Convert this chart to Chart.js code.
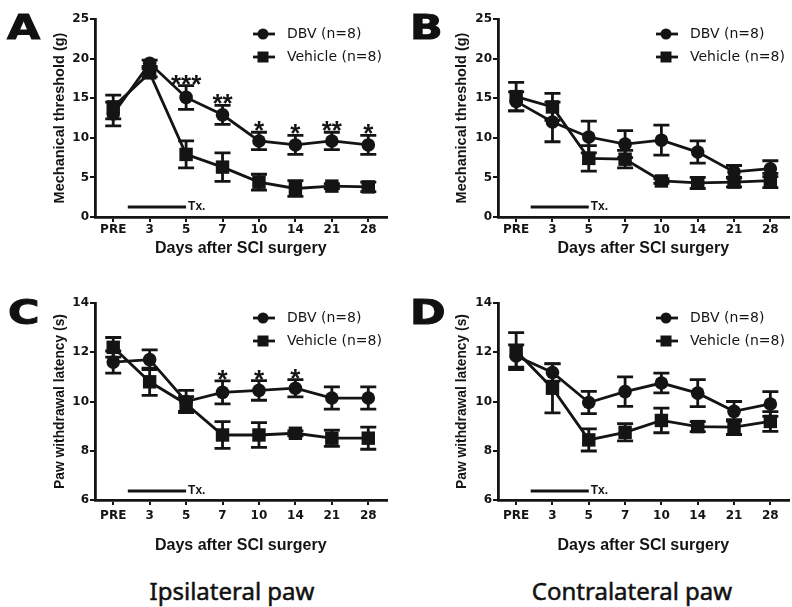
<!DOCTYPE html>
<html>
<head>
<meta charset="utf-8">
<script src="https://cdn.jsdelivr.net/npm/chart.js@4.4.0/dist/chart.umd.min.js"></script>
<style>
  body { margin: 0; width: 792px; height: 607px; overflow: hidden; background: #fff; position: relative; }
  canvas { position: absolute; }
  .letter { position: absolute; font: bold 33px 'DejaVu Sans'; line-height: 33px; color: #111;
            transform: scaleX(1.3); transform-origin: left top; -webkit-text-stroke: 1px #111; }
  .caption { position: absolute; width: 300px; text-align: center; font: 24px 'Noto Sans'; color: #111;
             line-height: 30px; -webkit-text-stroke: 0.5px #111; }
</style>
</head>
<body>
<canvas id="chartA" width="396" height="265" style="left:0;top:0"></canvas>
<canvas id="chartB" width="402" height="265" style="left:396px;top:0"></canvas>
<canvas id="chartC" width="396" height="288" style="left:0;top:270px"></canvas>
<canvas id="chartD" width="402" height="288" style="left:396px;top:270px"></canvas>
<div class="letter" style="left:7px;top:11px">A</div>
<div class="letter" style="left:410px;top:11px">B</div>
<div class="letter" style="left:8px;top:296px">C</div>
<div class="letter" style="left:410px;top:296px">D</div>
<div class="caption" style="left:82px;top:576px">Ipsilateral paw</div>
<div class="caption" style="left:482px;top:576px">Contralateral paw</div>
<script>
const days = ['PRE', '3', '5', '7', '10', '14', '21', '28'];
const seriesNames = ['DBV (n=8)', 'Vehicle (n=8)'];

// A - mechanical threshold, ipsilateral
const mechIpsiDbv = [13.0, 19.4, 15.1, 12.9, 9.6, 9.1, 9.6, 9.1];
const mechIpsiDbvErr = [1.5, 0.4, 1.5, 1.2, 1.1, 1.2, 1.1, 1.2];
const mechIpsiVeh = [13.9, 18.2, 7.9, 6.3, 4.4, 3.6, 3.9, 3.8];
const mechIpsiVehErr = [1.5, 0.5, 1.7, 1.8, 1.0, 1.0, 0.3, 0.6];
const mechIpsiStars = ['', '', '***', '**', '*', '*', '**', '*'];

// B - mechanical threshold, contralateral
const mechContraDbv = [14.6, 12.0, 10.1, 9.2, 9.7, 8.2, 5.7, 6.1];
const mechContraDbvErr = [1.2, 2.5, 2.0, 1.7, 1.9, 1.4, 0.8, 1.0];
const mechContraVeh = [15.2, 13.9, 7.4, 7.3, 4.55, 4.3, 4.4, 4.6];
const mechContraVehErr = [1.8, 1.7, 1.6, 1.1, 0.3, 0.7, 0.6, 0.9];
const mechContraStars = ['', '', '', '', '', '', '', ''];

// C - paw withdrawal latency, ipsilateral
const latIpsiDbv = [11.6, 11.7, 10.0, 10.37, 10.45, 10.54, 10.14, 10.14];
const latIpsiDbvErr = [0.45, 0.4, 0.45, 0.47, 0.4, 0.35, 0.45, 0.45];
const latIpsiVeh = [12.2, 10.8, 9.9, 8.64, 8.64, 8.71, 8.51, 8.51];
const latIpsiVehErr = [0.4, 0.55, 0.3, 0.54, 0.5, 0.1, 0.33, 0.45];
const latIpsiStars = ['', '', '', '*', '*', '*', '', ''];

// D - paw withdrawal latency, contralateral
const latContraDbv = [11.85, 11.18, 9.96, 10.4, 10.75, 10.34, 9.6, 9.9];
const latContraDbvErr = [0.45, 0.35, 0.45, 0.6, 0.4, 0.55, 0.4, 0.5];
const latContraVeh = [12.05, 10.54, 8.44, 8.75, 9.23, 8.98, 8.96, 9.19];
const latContraVehErr = [0.75, 1.0, 0.45, 0.35, 0.5, 0.2, 0.3, 0.4];
const latContraStars = ['', '', '', '', '', '', '', ''];

// treatment period, in x index units (between PRE/3 up to day 5)
const txSpan = [0.4, 2];

const INK = '#141414';

// error bars, asterisks, Tx. bar and the small legend
function makeExtras(cfg) {
    return {
        id: 'extras',
        beforeDatasetsDraw(chart) {
            const ctx = chart.ctx, xs = chart.scales.x, ys = chart.scales.y;
            ctx.save();
            ctx.strokeStyle = INK;
            ctx.lineWidth = 2.8;
            [cfg.dbvErr, cfg.vehErr].forEach((errs, d) => {
                const vals = chart.data.datasets[d].data;
                vals.forEach((v, i) => {
                    const px = xs.getPixelForValue(i);
                    const top = ys.getPixelForValue(v + errs[i]);
                    const bot = ys.getPixelForValue(v - errs[i]);
                    ctx.beginPath();
                    ctx.moveTo(px, top); ctx.lineTo(px, bot);
                    ctx.moveTo(px - 8, top); ctx.lineTo(px + 8, top);
                    ctx.moveTo(px - 8, bot); ctx.lineTo(px + 8, bot);
                    ctx.stroke();
                });
            });
            ctx.restore();
        },
        afterDraw(chart) {
            const ctx = chart.ctx, xs = chart.scales.x, ys = chart.scales.y;
            const area = chart.chartArea;
            ctx.save();
            ctx.fillStyle = INK;
            ctx.strokeStyle = INK;

            // significance marks
            ctx.font = 'bold 26px "Liberation Sans"';
            ctx.textAlign = 'center';
            ctx.textBaseline = 'alphabetic';
            cfg.stars.forEach((s, i) => {
                if (!s) return;
                const top = ys.getPixelForValue(cfg.dbv[i] + cfg.dbvErr[i]);
                ctx.fillText(s, xs.getPixelForValue(i), top + 7);
            });

            // Tx. bar
            const ty = area.bottom - cfg.txGap;
            const x1 = xs.getPixelForValue(txSpan[0]);
            const x2 = xs.getPixelForValue(txSpan[1]);
            ctx.lineWidth = 3;
            ctx.beginPath();
            ctx.moveTo(x1, ty); ctx.lineTo(x2, ty);
            ctx.stroke();
            ctx.font = 'bold 12px "Liberation Sans"';
            ctx.textAlign = 'left';
            ctx.textBaseline = 'middle';
            ctx.fillText('Tx.', x2 + 2, ty);

            // legend
            ctx.font = '14px "DejaVu Sans"';
            ctx.lineWidth = 2.8;
            seriesNames.forEach((name, k) => {
                const cy = area.top + 15 + k * 23;
                const cx = area.left + 168;
                ctx.beginPath();
                ctx.moveTo(cx - 10, cy); ctx.lineTo(cx + 12, cy);
                ctx.stroke();
                if (k === 0) {
                    ctx.beginPath();
                    ctx.arc(cx, cy, 5.5, 0, Math.PI * 2);
                    ctx.fill();
                } else {
                    ctx.fillRect(cx - 5.5, cy - 5.5, 11, 11);
                }
                ctx.fillText(name, area.left + 192, cy);
            });
            ctx.restore();
        }
    };
}

function makePanel(cfg) {
    const ctx = document.getElementById(cfg.canvas).getContext('2d');
    return new Chart(ctx, {
        type: 'line',
        data: {
            labels: days,
            datasets: [{
                label: seriesNames[0],
                data: cfg.dbv,
                borderColor: INK,
                backgroundColor: INK,
                borderWidth: 2.8,
                pointStyle: 'circle',
                pointRadius: 6.8,
                pointBorderWidth: 0,
                clip: false
            }, {
                label: seriesNames[1],
                data: cfg.veh,
                borderColor: INK,
                backgroundColor: INK,
                borderWidth: 2.8,
                pointStyle: 'rect',
                pointRadius: 9.5,
                pointBorderWidth: 0,
                clip: false
            }]
        },
        options: {
            responsive: false,
            animation: false,
            devicePixelRatio: 1,
            layout: { padding: cfg.pad },
            plugins: {
                legend: { display: false },
                tooltip: { enabled: false }
            },
            scales: {
                x: {
                    offset: true,
                    afterFit: s => { s.height = cfg.xHeight; },
                    border: { display: true, color: INK, width: 2.8 },
                    grid: { drawOnChartArea: false, color: INK, lineWidth: 2, tickLength: 5, offset: false },
                    ticks: {
                        color: INK, padding: cfg.tickPad, autoSkip: false, maxRotation: 0,
                        font: { family: 'DejaVu Sans', weight: 'bold', size: 12 }
                    },
                    title: {
                        display: true, text: 'Days after SCI surgery', color: INK,
                        padding: { top: 0, bottom: cfg.xTitlePad },
                        font: { family: 'Liberation Sans', weight: 'bold', size: 16 }
                    }
                },
                y: {
                    min: cfg.yMin, max: cfg.yMax,
                    afterFit: s => { s.width = cfg.yWidth; },
                    border: { display: true, color: INK, width: 2.8 },
                    grid: { drawOnChartArea: false, color: INK, lineWidth: 2, tickLength: 5 },
                    ticks: {
                        stepSize: cfg.step, color: INK, padding: 1,
                        font: { family: 'DejaVu Sans', weight: 'bold', size: 12 }
                    },
                    title: {
                        display: true, text: cfg.yTitle, color: INK,
                        padding: { top: 0, bottom: 0 },
                        font: { family: 'Liberation Sans', weight: 'bold', size: cfg.yTitleSize }
                    }
                }
            }
        },
        plugins: [makeExtras(cfg)]
    });
}

makePanel({
    canvas: 'chartA', dbv: mechIpsiDbv, dbvErr: mechIpsiDbvErr, veh: mechIpsiVeh, vehErr: mechIpsiVehErr,
    stars: mechIpsiStars, yMin: 0, yMax: 25, step: 5, yTitle: 'Mechanical threshold (g)', yTitleSize: 14.5,
    pad: { left: 51.6, top: 19, right: 3, bottom: 0 }, yWidth: 43.4, xHeight: 48, tickPad: 1, xTitlePad: 6.4, txGap: 10
});
makePanel({
    canvas: 'chartB', dbv: mechContraDbv, dbvErr: mechContraDbvErr, veh: mechContraVeh, vehErr: mechContraVehErr,
    stars: mechContraStars, yMin: 0, yMax: 25, step: 5, yTitle: 'Mechanical threshold (g)', yTitleSize: 14.5,
    pad: { left: 57.6, top: 19, right: 4, bottom: 0 }, yWidth: 44.4, xHeight: 48, tickPad: 1, xTitlePad: 6.4, txGap: 10
});
makePanel({
    canvas: 'chartC', dbv: latIpsiDbv, dbvErr: latIpsiDbvErr, veh: latIpsiVeh, vehErr: latIpsiVehErr,
    stars: latIpsiStars, yMin: 6, yMax: 14, step: 2, yTitle: 'Paw withdrawal latency (s)', yTitleSize: 13.8,
    pad: { left: 51.6, top: 33, right: 3, bottom: 0 }, yWidth: 43.4, xHeight: 58, tickPad: 4, xTitlePad: 2.4, txGap: 9
});
makePanel({
    canvas: 'chartD', dbv: latContraDbv, dbvErr: latContraDbvErr, veh: latContraVeh, vehErr: latContraVehErr,
    stars: latContraStars, yMin: 6, yMax: 14, step: 2, yTitle: 'Paw withdrawal latency (s)', yTitleSize: 13.8,
    pad: { left: 57.6, top: 33, right: 4, bottom: 0 }, yWidth: 44.4, xHeight: 58, tickPad: 4, xTitlePad: 2.4, txGap: 9
});
</script>
</body>
</html>
